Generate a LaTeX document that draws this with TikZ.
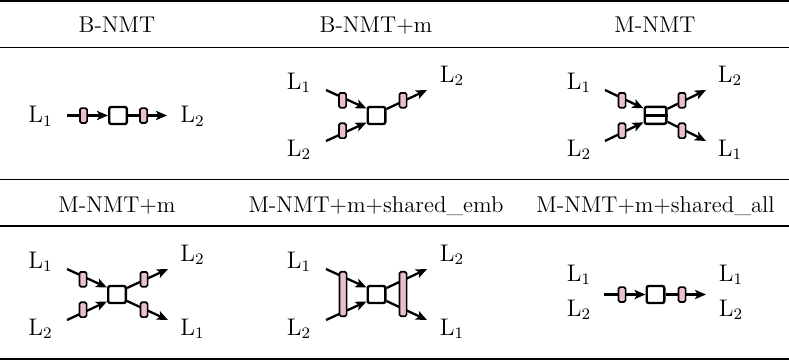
\documentclass[tikz,border=0pt]{standalone}
\usetikzlibrary{arrows.meta,calc,backgrounds}
\definecolor{embpink}{RGB}{234,192,207}

\begin{document}
\begin{tikzpicture}[x=0.5pt,y=-0.5pt,
	every node/.style = {font=\fontsize{11.4}{13.7}\selectfont, inner sep=0pt},
	head/.style = {anchor=base},
	lang/.style = {anchor=base, font=\fontsize{12}{14}\selectfont},
	enc/.style = {draw, fill=white, line width=1.2pt, rounded corners=1pt,
		minimum width=8.8pt, minimum height=8.5pt},
	emb/.style = {draw, fill=embpink, line width=0.85pt, rounded corners=0.8pt,
		minimum width=3.6pt, minimum height=7.4pt},
	conn/.style = {line width=1.15pt, -{Stealth[length=5.5pt,width=4.6pt,inset=1.3pt]}}]

	\useasboundingbox (0,0) rectangle (789,360);

	% table rules
	\draw[line width=0.85pt] (0,0.85) -- (789,0.85);
	\draw[line width=0.55pt] (0,47.7) -- (789,47.7);
	\draw[line width=0.5pt] (0,179.5) -- (789,179.5);
	\draw[line width=0.55pt] (0,226) -- (789,226);
	\draw[line width=0.85pt] (0,358.9) -- (789,358.9);

	\node[head] (h1) at (117,32.3) {B-NMT};
	\node[head] (h2) at (376,32.3) {B-NMT+m};
	\node[head] (h3) at (655,32.3) {M-NMT};
	\node[head] (h4) at (117,212.3) {M-NMT+m};
	\node[head] (h5) at (376,212.3) {M-NMT+m+shared\_emb};
	\node[head] (h6) at (655.5,212.3) {M-NMT+m+shared\_all};

	% B-NMT
	\node[lang] (a-l1) at (40.5,122.5) {L$_1$};
	\coordinate (a-in) at (67,115.5);
	\node[emb] (a-e1) at (83.5,115.5) {};
	\node[enc] (a-enc) at (118,115.5) {};
	\node[emb] (a-e2) at (143.5,115.5) {};
	\coordinate (a-out) at (167,115.5);
	\node[lang] (a-l2) at (192.5,122.5) {L$_2$};

	% B-NMT+m
	\node[lang] (b-l1) at (299,89.3) {L$_1$};
	\node[lang] (b-l2) at (299,156) {L$_2$};
	\node[lang] (b-r2) at (452,82) {L$_2$};
	\coordinate (b-in1) at (326,90);
	\coordinate (b-in2) at (326,141);
	\coordinate (b-out1) at (427,90);
	\node[emb] (b-e1) at (342.5,100.3) {};
	\node[emb] (b-e2) at (342.5,130.7) {};
	\node[enc] (b-enc) at (376.5,115.5) {};
	\node[emb] (b-e3) at (403,100.3) {};

	% M-NMT
	\node[lang] (c-l1) at (579,89.3) {L$_1$};
	\node[lang] (c-l2) at (579,156) {L$_2$};
	\node[lang] (c-r2) at (730,82) {L$_2$};
	\node[lang] (c-r1) at (730,156) {L$_1$};
	\coordinate (c-in1) at (605,90);
	\coordinate (c-in2) at (605,141);
	\coordinate (c-out1) at (706,90);
	\coordinate (c-out2) at (706,141);
	\node[emb] (c-e1) at (622,100.3) {};
	\node[emb] (c-e2) at (622,130.7) {};
	\node[enc, minimum width=10.8pt] (c-enc) at (655.5,115.3) {};
	\draw[line width=1.2pt] (c-enc.west) -- (c-enc.east);
	\node[emb] (c-e3) at (682,100.3) {};
	\node[emb] (c-e4) at (682,130.7) {};

	% M-NMT+m
	\node[lang] (d-l1) at (40.5,268.3) {L$_1$};
	\node[lang] (d-l2) at (40.5,335) {L$_2$};
	\node[lang] (d-r2) at (192.5,261) {L$_2$};
	\node[lang] (d-r1) at (192.5,335) {L$_1$};
	\coordinate (d-in1) at (67,269);
	\coordinate (d-in2) at (67,320);
	\coordinate (d-out1) at (168,269);
	\coordinate (d-out2) at (168,320);
	\node[emb] (d-e1) at (83,279.3) {};
	\node[emb] (d-e2) at (83,309.7) {};
	\node[enc] (d-enc) at (117,294.5) {};
	\node[emb] (d-e3) at (144,279.3) {};
	\node[emb] (d-e4) at (144,309.7) {};

	% M-NMT+m+shared_emb
	\node[lang] (e-l1) at (299,268.3) {L$_1$};
	\node[lang] (e-l2) at (299,335) {L$_2$};
	\node[lang] (e-r2) at (452,261) {L$_2$};
	\node[lang] (e-r1) at (452,335) {L$_1$};
	\coordinate (e-in1) at (326,269);
	\coordinate (e-in2) at (326,320);
	\coordinate (e-out1) at (427,269);
	\coordinate (e-out2) at (427,320);
	\node[emb, minimum height=22.2pt] (e-e1) at (343,294) {};
	\node[enc] (e-enc) at (376.5,294.5) {};
	\node[emb, minimum height=22.2pt] (e-e2) at (403,294) {};

	% M-NMT+m+shared_all
	\node[lang] (f-l1) at (579,281) {L$_1$};
	\node[lang] (f-l2) at (579,316) {L$_2$};
	\node[lang] (f-r1) at (731,281) {L$_1$};
	\node[lang] (f-r2) at (731,316) {L$_2$};
	\coordinate (f-in) at (604,294.5);
	\node[emb] (f-e1) at (622,294.5) {};
	\node[enc] (f-enc) at (655.5,294.5) {};
	\node[emb] (f-e2) at (682,294.5) {};
	\coordinate (f-out) at (706,294.5);

	\begin{pgfonlayer}{background}
		\draw[conn] (a-in) -- (a-enc);
		\draw[conn] (a-enc) -- (a-out);

		\draw[conn] (b-in1) -- ($(b-enc.west)+(0,-7)$);
		\draw[conn] (b-in2) -- ($(b-enc.west)+(0,7)$);
		\draw[conn] ($(b-enc.east)+(0,-6.5)$) -- (b-out1);

		\draw[conn] (c-in1) -- ($(c-enc.west)+(0,-7)$);
		\draw[conn] (c-in2) -- ($(c-enc.west)+(0,7)$);
		\draw[conn] ($(c-enc.east)+(0,-6.5)$) -- (c-out1);
		\draw[conn] ($(c-enc.east)+(0,6.5)$) -- (c-out2);

		\draw[conn] (d-in1) -- ($(d-enc.west)+(0,-7)$);
		\draw[conn] (d-in2) -- ($(d-enc.west)+(0,7)$);
		\draw[conn] ($(d-enc.east)+(0,-6.5)$) -- (d-out1);
		\draw[conn] ($(d-enc.east)+(0,6.5)$) -- (d-out2);

		\draw[conn] (e-in1) -- ($(e-enc.west)+(0,-7)$);
		\draw[conn] (e-in2) -- ($(e-enc.west)+(0,7)$);
		\draw[conn] ($(e-enc.east)+(0,-6.5)$) -- (e-out1);
		\draw[conn] ($(e-enc.east)+(0,6.5)$) -- (e-out2);

		\draw[conn] (f-in) -- (f-enc);
		\draw[conn] (f-enc) -- (f-out);
	\end{pgfonlayer}
\end{tikzpicture}
\end{document}
